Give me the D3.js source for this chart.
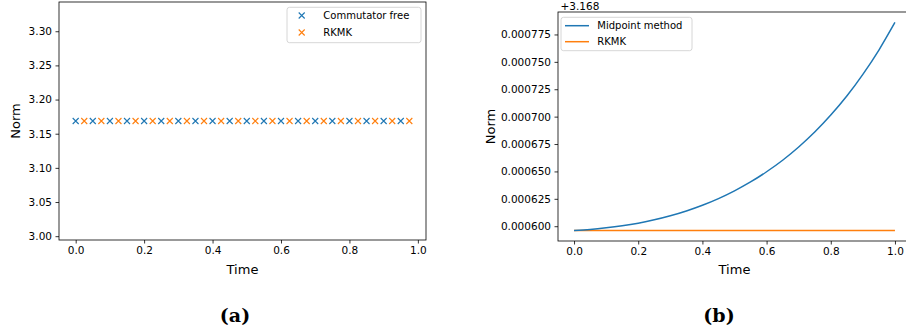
<!DOCTYPE html>
<html>
<head>
<meta charset="utf-8">
<script src="https://cdn.jsdelivr.net/npm/d3@7"></script>
<style>
  body { margin: 0; background: #fff; }
  svg text { font-family: "DejaVu Sans", sans-serif; fill: #000; }
</style>
</head>
<body>
<svg id="chart" width="906" height="332"></svg>
<script>
// ---- panel (a): norm of the two Lie group integrators ----
const cfTimes = [0.0, 0.05, 0.1, 0.15, 0.2, 0.25, 0.3, 0.35, 0.4, 0.45,
                 0.5, 0.55, 0.6, 0.65, 0.7, 0.75, 0.8, 0.85, 0.9, 0.95];
const cfNorm = [3.1686, 3.1686, 3.1686, 3.1686, 3.1686, 3.1686, 3.1686, 3.1686, 3.1686, 3.1686,
                3.1686, 3.1686, 3.1686, 3.1686, 3.1686, 3.1686, 3.1686, 3.1686, 3.1686, 3.1686];
const rkmkTimesA = [0.025, 0.075, 0.125, 0.175, 0.225, 0.275, 0.325, 0.375, 0.425, 0.475,
                    0.525, 0.575, 0.625, 0.675, 0.725, 0.775, 0.825, 0.875, 0.925, 0.975];
const rkmkNormA = [3.1686, 3.1686, 3.1686, 3.1686, 3.1686, 3.1686, 3.1686, 3.1686, 3.1686, 3.1686,
                   3.1686, 3.1686, 3.1686, 3.1686, 3.1686, 3.1686, 3.1686, 3.1686, 3.1686, 3.1686];
const aYTicks = [3.00, 3.05, 3.10, 3.15, 3.20, 3.25, 3.30];
const xTicks = [0.0, 0.2, 0.4, 0.6, 0.8, 1.0];

// ---- panel (b): values shown relative to the +3.168 offset ----
const bOffset = 3.168;
const bTimes = [0.0, 0.05, 0.1, 0.15, 0.2, 0.25, 0.3, 0.35, 0.4, 0.45, 0.5,
                0.55, 0.6, 0.65, 0.7, 0.75, 0.8, 0.85, 0.9, 0.95, 1.0];
const midpointNorm = [0.0005960, 0.0005970, 0.0005985, 0.0006004, 0.0006028, 0.0006058, 0.0006095,
                      0.0006139, 0.0006191, 0.0006252, 0.0006323, 0.0006404, 0.0006497, 0.0006602,
                      0.0006723, 0.0006859, 0.0007014, 0.0007188, 0.0007386, 0.0007608, 0.0007860];
const rkmkNormB = [0.000596, 0.000596, 0.000596, 0.000596, 0.000596, 0.000596, 0.000596,
                   0.000596, 0.000596, 0.000596, 0.000596, 0.000596, 0.000596, 0.000596,
                   0.000596, 0.000596, 0.000596, 0.000596, 0.000596, 0.000596, 0.000596];
const bYTicks = [0.000600, 0.000625, 0.000650, 0.000675, 0.000700, 0.000725, 0.000750, 0.000775];

const blue = "#1f77b4", orange = "#ff7f0e";
const svg = d3.select("#chart");

function frame(g, x, y, xt, yt, yfmt) {
  g.append("g")
    .attr("transform", `translate(0,${y.range()[0]})`)
    .call(d3.axisBottom(x).tickValues(xt).tickFormat(d3.format(".1f")).tickSize(3.5).tickPadding(3.5))
    .call(a => a.select(".domain").remove());
  g.append("g")
    .attr("transform", `translate(${x.range()[0]},0)`)
    .call(d3.axisLeft(y).tickValues(yt).tickFormat(d3.format(yfmt)).tickSize(3.5).tickPadding(3.5))
    .call(a => a.select(".domain").remove());
  g.selectAll(".tick line").attr("stroke", "#000").attr("stroke-width", 0.8);
  g.selectAll(".tick text").style("font-size", "10.5px").style("font-family", "DejaVu Sans");
  g.append("rect")
    .attr("x", x.range()[0]).attr("y", y.range()[1])
    .attr("width", x.range()[1] - x.range()[0])
    .attr("height", y.range()[0] - y.range()[1])
    .attr("fill", "none").attr("stroke", "#000").attr("stroke-width", 0.8);
}

function labels(g, x, y, xName, yName, yLabelX) {
  g.append("text")
    .attr("x", (x.range()[0] + x.range()[1]) / 2).attr("y", 274)
    .attr("text-anchor", "middle").style("font-size", "13px").text(xName);
  const cy = (y.range()[0] + y.range()[1]) / 2;
  g.append("text")
    .attr("transform", `translate(${yLabelX},${cy}) rotate(-90)`)
    .attr("text-anchor", "middle").style("font-size", "13px").text(yName);
}

function legendBox(g, x0, y0, w, h) {
  g.append("rect")
    .attr("x", x0).attr("y", y0).attr("width", w).attr("height", h).attr("rx", 2.5)
    .attr("fill", "#fff").attr("fill-opacity", 0.8)
    .attr("stroke", "#cccccc").attr("stroke-width", 0.8);
}

const cross = "M-3,-3L3,3M-3,3L3,-3";

// panel (a)
const ga = svg.append("g");
const xa = d3.scaleLinear().domain([-0.04875, 1.02375]).range([59, 426]);
const ya = d3.scaleLinear().domain([2.9944, 3.3428]).range([240, 2]);
frame(ga, xa, ya, xTicks, aYTicks, ".2f");
labels(ga, xa, ya, "Time", "Norm", 20);

ga.selectAll(".cf").data(cfTimes).enter().append("path")
  .attr("class", "cf")
  .attr("transform", (d, i) => `translate(${xa(d)},${ya(cfNorm[i])})`)
  .attr("d", cross).attr("stroke", blue).attr("stroke-width", 1.1).attr("fill", "none");
ga.selectAll(".rk").data(rkmkTimesA).enter().append("path")
  .attr("class", "rk")
  .attr("transform", (d, i) => `translate(${xa(d)},${ya(rkmkNormA[i])})`)
  .attr("d", cross).attr("stroke", orange).attr("stroke-width", 1.1).attr("fill", "none");

legendBox(ga, 287, 7.3, 134, 35.4);
[["Commutator free", blue], ["RKMK", orange]].forEach(([name, c], i) => {
  const yy = 15.5 + i * 17;
  ga.append("path").attr("transform", `translate(301.7,${yy})`).attr("d", cross)
    .attr("stroke", c).attr("stroke-width", 1.1).attr("fill", "none");
  ga.append("text").attr("x", 323.3).attr("y", yy).attr("dy", "0.35em")
    .style("font-size", "10px").text(name);
});

// panel (b)
const gb = svg.append("g");
const xb = d3.scaleLinear().domain([-0.05, 1.05]).range([558, 911]);
const yb = d3.scaleLinear().domain([0.0005865, 0.0007955]).range([241, 12]);
frame(gb, xb, yb, xTicks, bYTicks, ".6f");
labels(gb, xb, yb, "Time", "Norm", 495);

gb.append("text").attr("x", 560.5).attr("y", 9.5)
  .style("font-size", "10.5px").text("+" + bOffset.toFixed(3));

const line = (vals) => d3.line().curve(d3.curveMonotoneX)
  .x((d, i) => xb(bTimes[i])).y(d => yb(d))(vals);
gb.append("path").attr("d", line(rkmkNormB)).attr("fill", "none")
  .attr("stroke", orange).attr("stroke-width", 1.5);
gb.append("path").attr("d", line(midpointNorm)).attr("fill", "none")
  .attr("stroke", blue).attr("stroke-width", 1.5);

legendBox(gb, 561, 17.3, 131, 33.4);
[["Midpoint method", blue], ["RKMK", orange]].forEach(([name, c], i) => {
  const yy = 25.7 + i * 16;
  gb.append("line").attr("x1", 565).attr("x2", 589).attr("y1", yy).attr("y2", yy)
    .attr("stroke", c).attr("stroke-width", 1.5);
  gb.append("text").attr("x", 597.3).attr("y", yy).attr("dy", "0.35em")
    .style("font-size", "10px").text(name);
});

// subfigure captions
svg.append("text").attr("x", 235).attr("y", 321.5).attr("text-anchor", "middle")
  .style("font-family", "DejaVu Serif").style("font-weight", "bold").style("font-size", "19px").text("(a)");
svg.append("text").attr("x", 719).attr("y", 321.5).attr("text-anchor", "middle")
  .style("font-family", "DejaVu Serif").style("font-weight", "bold").style("font-size", "19px").text("(b)");
</script>
</body>
</html>
